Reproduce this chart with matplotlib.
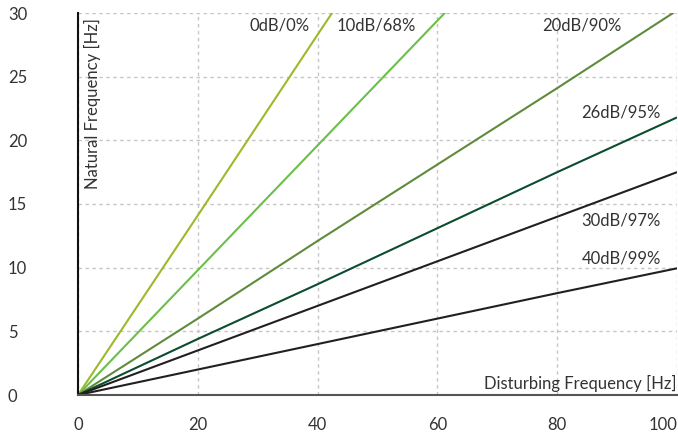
import matplotlib
matplotlib.use("Agg")
import matplotlib.pyplot as plt

plt.rcParams["font.family"] = ["Lato", "DejaVu Sans"]

# disturbing frequency [Hz]
freq = [0, 20, 40, 60, 80, 100]

# natural frequency [Hz] for each isolation level
iso_0db = [0, 14.1, 28.3, 42.4, 56.6, 70.7]
iso_10db = [0, 9.8, 19.6, 29.4, 39.2, 49.0]
iso_20db = [0, 6.0, 12.1, 18.1, 24.1, 30.2]
iso_26db = [0, 4.4, 8.7, 13.1, 17.5, 21.8]
iso_30db = [0, 3.5, 7.0, 10.5, 14.0, 17.5]
iso_40db = [0, 2.0, 4.0, 6.0, 8.0, 9.95]

labels = ["0dB/0%", "10dB/68%", "20dB/90%", "26dB/95%", "30dB/97%", "40dB/99%"]
series = [iso_0db, iso_10db, iso_20db, iso_26db, iso_30db, iso_40db]
colors = ["#9cb92b", "#6bbf48", "#5f8b3b", "#0b4d2e", "#231f20", "#231f20"]

# where the labels sit (data coords, right edge of the text)
label_pos = [(38.7, 29.0), (56.5, 29.0), (90.7, 29.0), (97.3, 22.2), (97.3, 13.7), (97.3, 10.7)]

text_col = "#333333"

fig = plt.figure(figsize=(6.78, 4.37), dpi=100)
ax = fig.add_axes([78 / 678, 42 / 437, 599 / 678, 382 / 437])

for ys, c in zip(series, colors):
    ax.plot(freq, ys, color=c, lw=1.5, solid_capstyle="butt")

for lab, (x, y) in zip(labels, label_pos):
    ax.text(x, y, lab, ha="right", va="center", fontsize=12, color=text_col)

ax.set_xlim(0, 100)
ax.set_ylim(0, 30)
ax.set_xticks([0, 20, 40, 60, 80, 100])
ax.set_yticks([0, 5, 10, 15, 20, 25, 30])
ax.grid(True, color="#c6c6c6", ls=(0, (2.5, 2.5)), lw=1)
ax.set_axisbelow(True)

for s in ["top", "right"]:
    ax.spines[s].set_visible(False)
ax.spines["left"].set_color("#111111")
ax.spines["left"].set_linewidth(1.5)
ax.spines["bottom"].set_color("#555555")
ax.spines["bottom"].set_linewidth(1.5)

ax.tick_params(length=0, labelsize=12, labelcolor=text_col)
ax.tick_params(axis="x", pad=16)
ax.tick_params(axis="y", pad=0)
for t in ax.get_yticklabels():
    t.set_horizontalalignment("left")
    t.set_x(-70 / 599)
ax.get_xticklabels()[-1].set_horizontalalignment("right")

ax.text(99.9, 0.9, "Disturbing Frequency [Hz]", ha="right", va="center", fontsize=12, color=text_col)
ax.text(2.5, 29.6, "Natural Frequency [Hz]", ha="center", va="top", rotation=90, fontsize=12, color=text_col)

fig.savefig("out.png", dpi=100)
